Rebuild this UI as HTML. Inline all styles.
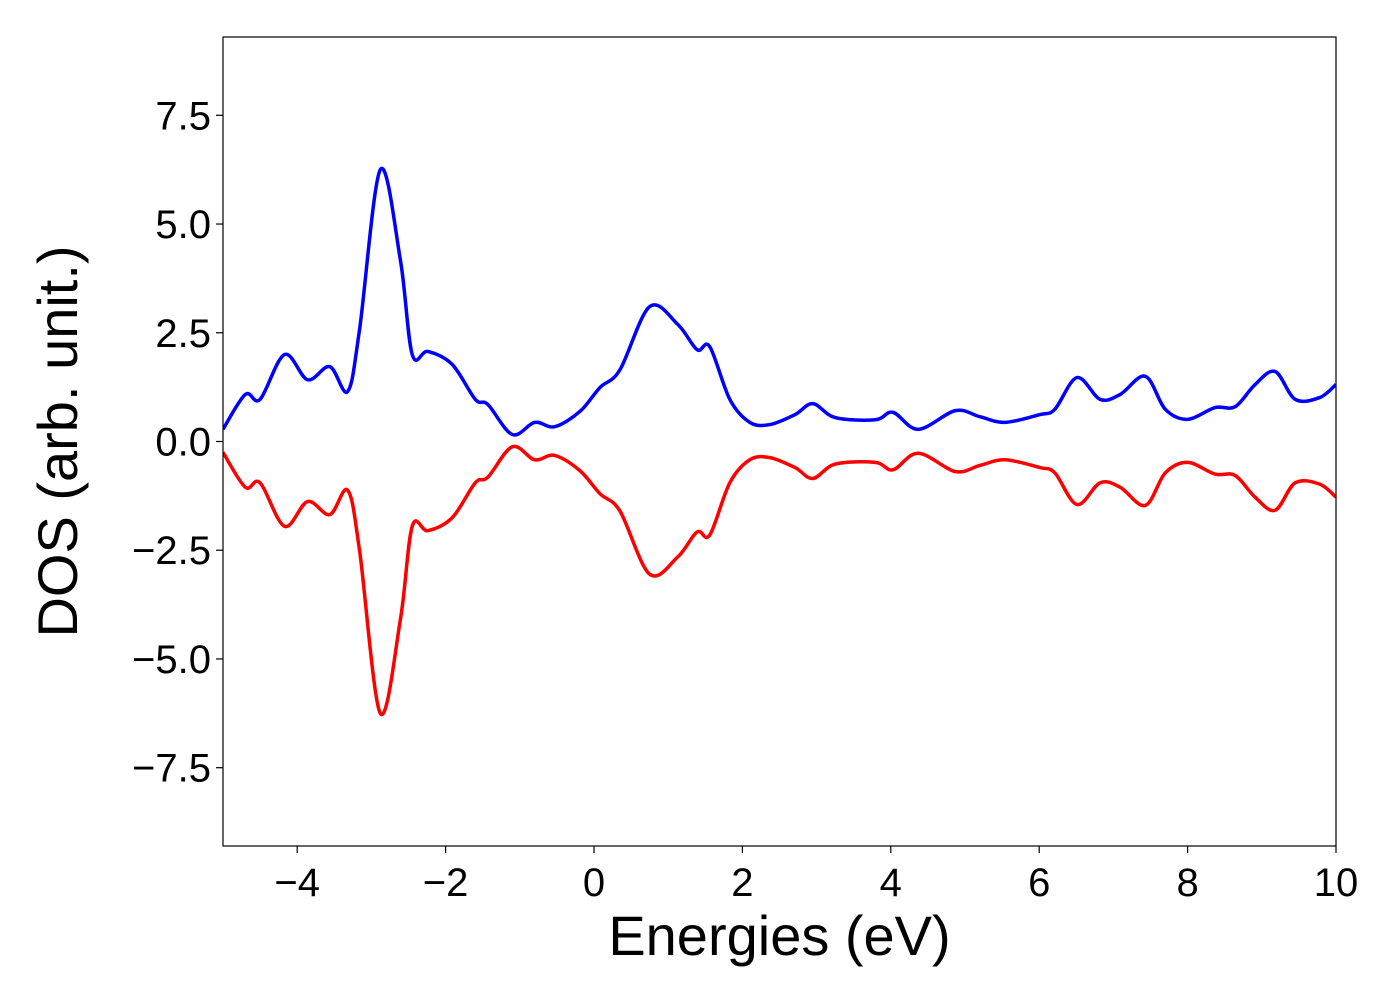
<!DOCTYPE html>
<html><head><meta charset="utf-8"><style>
body{margin:0;background:#fff;}
svg text{font-family:"Liberation Sans","DejaVu Sans",sans-serif;}
</style></head><body>
<svg id="chart" width="1400" height="1000" xmlns="http://www.w3.org/2000/svg"></svg>
<script>
const energies = [-5,-4.7,-4.5,-4.17,-3.86,-3.56,-3.32,-3.16,-2.88,-2.61,-2.45,-2.24,-1.91,-1.6,-1.43,-1.1,-0.8,-0.53,-0.19,0.08,0.35,0.75,1.13,1.39,1.56,1.83,2.1,2.37,2.71,2.95,3.25,3.79,4.03,4.37,4.87,5.2,5.54,6.01,6.21,6.51,6.82,7.09,7.43,7.7,8.0,8.37,8.64,8.91,9.18,9.45,9.78,10];
const dosUp = [0.28,1.08,0.97,2.0,1.42,1.72,1.15,2.57,6.25,4.18,2.0,2.07,1.77,0.97,0.85,0.16,0.44,0.34,0.69,1.24,1.65,3.1,2.69,2.11,2.18,0.97,0.44,0.39,0.62,0.87,0.55,0.5,0.67,0.28,0.71,0.57,0.44,0.62,0.74,1.47,0.97,1.08,1.5,0.74,0.51,0.78,0.8,1.31,1.61,0.97,1.01,1.31];
const dosDown = [-0.25,-1.05,-0.95,-1.95,-1.38,-1.68,-1.12,-2.5,-6.25,-4.1,-1.95,-2.05,-1.75,-0.95,-0.82,-0.12,-0.42,-0.32,-0.67,-1.2,-1.6,-3.05,-2.65,-2.08,-2.15,-0.95,-0.42,-0.37,-0.6,-0.85,-0.52,-0.48,-0.65,-0.27,-0.69,-0.55,-0.42,-0.6,-0.72,-1.45,-0.95,-1.05,-1.47,-0.72,-0.48,-0.75,-0.78,-1.28,-1.58,-0.95,-0.98,-1.28];
const xTicks = [-4,-2,0,2,4,6,8,10];
const yTicks = [-7.5,-5.0,-2.5,0.0,2.5,5.0,7.5];

const L=223,R=1336,T=37,B=846;
const xmin=-5,xmax=10,ymin=-9.3,ymax=9.3;
const sx=v=>L+(v-xmin)/(xmax-xmin)*(R-L);
const sy=v=>B-(v-ymin)/(ymax-ymin)*(B-T);
const svg=document.getElementById('chart');
const NS='http://www.w3.org/2000/svg';
function mk(tag,attrs,name){const e=document.createElementNS(NS,tag);for(const k in attrs)e.setAttribute(k,attrs[k]);


svg.appendChild(e);return e;}
const clip=document.createElementNS(NS,'clipPath');clip.setAttribute('id','pc');
const cr=document.createElementNS(NS,'rect');cr.setAttribute('x',L);cr.setAttribute('y',T);cr.setAttribute('width',R-L);cr.setAttribute('height',B-T);
clip.appendChild(cr);svg.appendChild(clip);
function path(ys){const p=energies.map((e,i)=>[sx(e),sy(ys[i])]);let d='M'+p[0][0]+','+p[0][1];
for(let i=0;i<p.length-1;i++){const p0=p[Math.max(0,i-1)],p1=p[i],p2=p[i+1],p3=p[Math.min(p.length-1,i+2)];
const c1=[p1[0]+(p2[0]-p0[0])/6,p1[1]+(p2[1]-p0[1])/6],c2=[p2[0]-(p3[0]-p1[0])/6,p2[1]-(p3[1]-p1[1])/6];
d+=` C${c1[0]},${c1[1]} ${c2[0]},${c2[1]} ${p2[0]},${p2[1]}`;}return d;}
mk('path',{d:path(dosUp),fill:'none',stroke:'#0000ff','stroke-width':3.5,'clip-path':'url(#pc)'},'dos-spin-up-line');
mk('path',{d:path(dosDown),fill:'none',stroke:'#ff0000','stroke-width':3.5,'clip-path':'url(#pc)'},'dos-spin-down-line');
mk('rect',{x:L,y:T,width:R-L,height:B-T,fill:'none',stroke:'#000','stroke-width':1.2},'plot-frame');
xTicks.forEach(v=>{mk('line',{x1:sx(v),x2:sx(v),y1:B,y2:B+7,stroke:'#000','stroke-width':1.2},'x-tick');
const t=mk('text',{x:sx(v),y:B+50,'font-size':40,'text-anchor':'middle'},'x-tick-label');t.textContent=(v<0?'\u2212':'')+Math.abs(v);});
yTicks.forEach(v=>{mk('line',{x1:L-7,x2:L,y1:sy(v),y2:sy(v),stroke:'#000','stroke-width':1.2},'y-tick');
const t=mk('text',{x:L-12,y:sy(v)+14,'font-size':40,'text-anchor':'end'},'y-tick-label');t.textContent=(v<0?'\u2212':'')+Math.abs(v).toFixed(1);});
const xl=mk('text',{x:(L+R)/2,y:955,'font-size':56,'text-anchor':'middle'},'x-axis-title');xl.textContent='Energies (eV)';
const yl=mk('text',{x:0,y:0,'font-size':56,'text-anchor':'middle',transform:`translate(77,${(T+B)/2}) rotate(-90)`},'y-axis-title');yl.textContent='DOS (arb. unit.)';
</script>
</body></html>
